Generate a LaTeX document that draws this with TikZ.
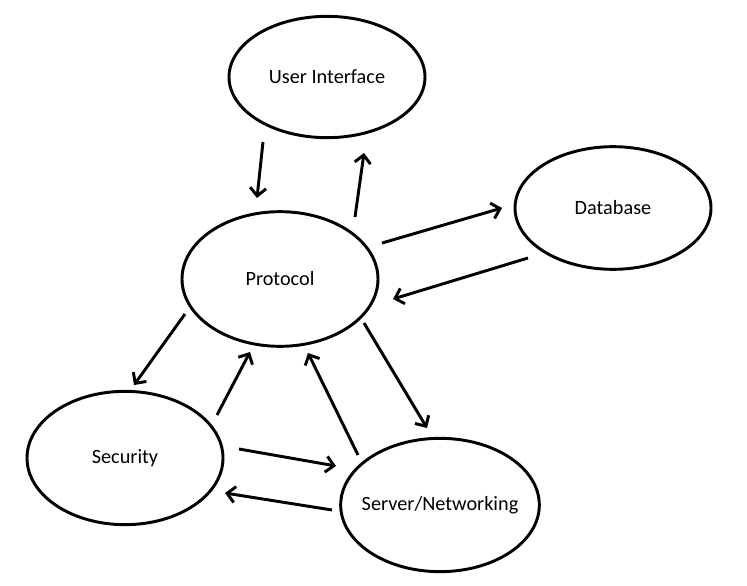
\documentclass[tikz,border=0pt]{standalone}
\usepackage{fontspec}
\setmainfont{Carlito}
\usetikzlibrary{arrows.meta,shapes.geometric,calc}

\begin{document}
\begin{tikzpicture}[
    x=0.75pt, y=-0.75pt,
    part/.style={ellipse, draw, line width=2.2pt, inner sep=0pt,
                 label={[font=\fontsize{15.2}{18}\selectfont]center:#1}},
    arr/.style ={-{Straight Barb[length=6pt,width=12pt,line width=2.2pt]},
                 line width=2.2pt}
]
\useasboundingbox (0,0) rectangle (747,586);

\node[part={User Interface}, minimum width=147pt, minimum height=91pt]  (ui)    at (327,77)  {};
\node[part={Database}, minimum width=147pt, minimum height=92pt]        (db)    at (613,208) {};
\node[part={Protocol}, minimum width=147pt, minimum height=101pt]       (proto) at (280,279) {};
\node[part={Security}, minimum width=147pt, minimum height=100pt]       (sec)   at (125,458) {};
\node[part={Server/Networking}, minimum width=149pt, minimum height=100pt] (srv) at (440,505) {};

\draw[arr] ($(ui)+(-64,65)$)    -- ($(proto)+(-23,-81)$);
\draw[arr] ($(proto)+(75,-62)$) -- ($(ui)+(37,76)$);
\draw[arr] ($(proto)+(102,-36)$) -- ($(db)+(-111,0)$);
\draw[arr] ($(db)+(-85,50)$)    -- ($(proto)+(113,20)$);
\draw[arr] ($(proto)+(-95,35)$) -- ($(sec)+(9,-73)$);
\draw[arr] ($(sec)+(92,-43)$)   -- ($(proto)+(-30,73)$);
\draw[arr] ($(sec)+(114,-9)$)   -- ($(srv)+(-104,-39)$);
\draw[arr] ($(srv)+(-108,5)$)   -- ($(sec)+(100,35)$);
\draw[arr] ($(proto)+(84,44)$)  -- ($(srv)+(-13,-77)$);
\draw[arr] ($(srv)+(-82,-50)$)  -- ($(proto)+(28,74)$);
\end{tikzpicture}
\end{document}
